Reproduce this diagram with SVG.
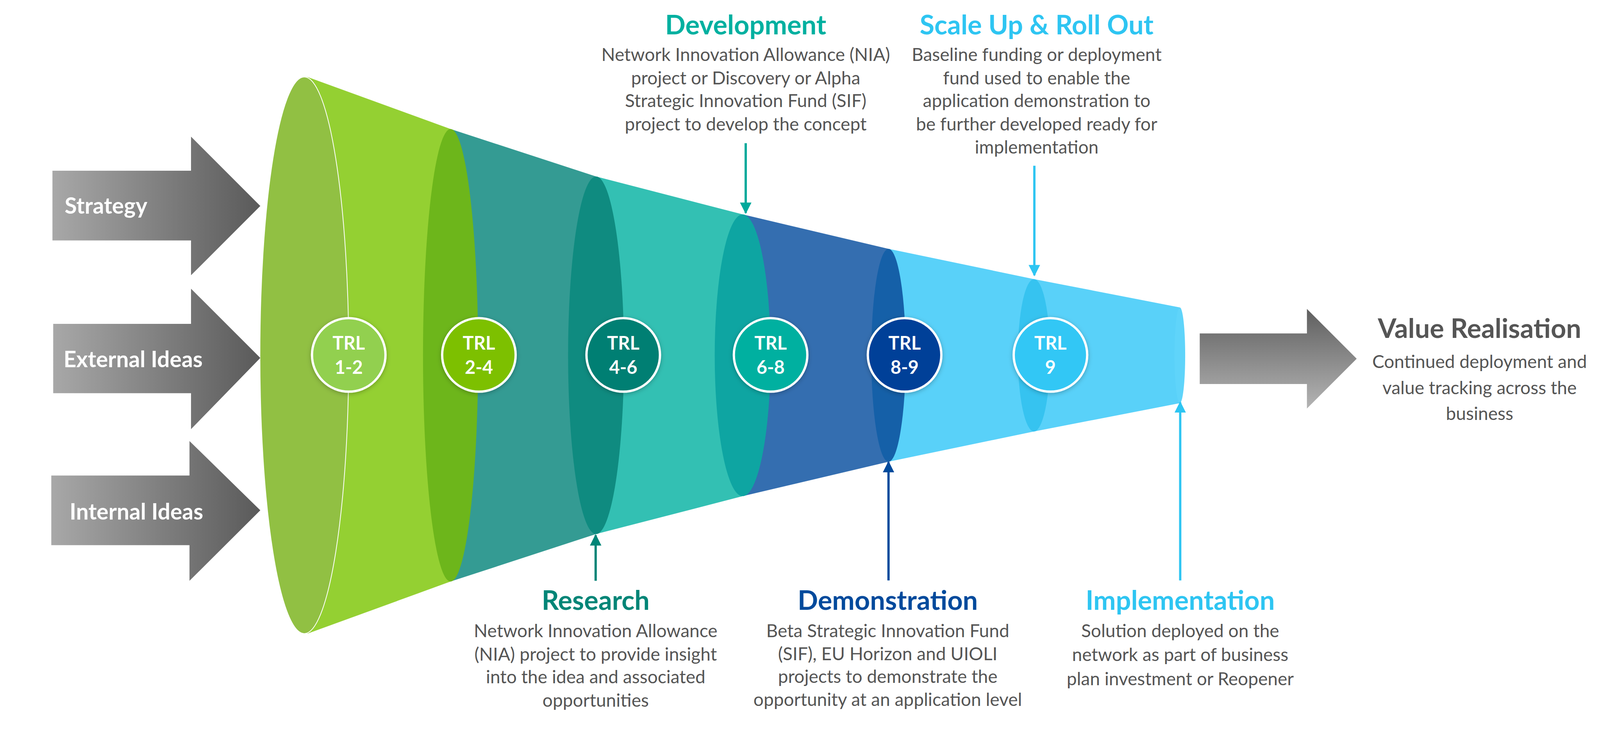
<svg xmlns="http://www.w3.org/2000/svg" width="4189" height="1884" viewBox="0 0 4189 1884">
<defs>
<linearGradient id="gh" x1="0" y1="0" x2="1" y2="0"><stop offset="0" stop-color="#a8a8a8"/><stop offset="1" stop-color="#5a5a5a"/></linearGradient>
<linearGradient id="gv" x1="0" y1="0" x2="0" y2="1"><stop offset="0" stop-color="#5f5f5f"/><stop offset="1" stop-color="#b4b4b4"/></linearGradient>
<filter id="sh" x="-30%" y="-30%" width="160%" height="160%"><feDropShadow dx="0" dy="3" stdDeviation="6" flood-color="#000" flood-opacity="0.25"/></filter>
<marker id="m1" viewBox="0 0 10 10" refX="9" refY="5" markerWidth="5" markerHeight="5" orient="auto"><path d="M0,0L10,5L0,10z" fill="#00a99b"/></marker>
<marker id="m2" viewBox="0 0 10 10" refX="9" refY="5" markerWidth="5" markerHeight="5" orient="auto"><path d="M0,0L10,5L0,10z" fill="#2ec5f2"/></marker>
<marker id="m3" viewBox="0 0 10 10" refX="9" refY="5" markerWidth="5" markerHeight="5" orient="auto"><path d="M0,0L10,5L0,10z" fill="#008577"/></marker>
<marker id="m4" viewBox="0 0 10 10" refX="9" refY="5" markerWidth="5" markerHeight="5" orient="auto"><path d="M0,0L10,5L0,10z" fill="#004a9c"/></marker>
</defs>
<style>
.al{font-family:Lato,"Liberation Sans",sans-serif;font-weight:bold;font-size:58px;fill:#fff}
.trl{font-family:Lato,"Liberation Sans",sans-serif;font-weight:bold;font-size:48px;fill:#fff;text-anchor:middle}
.tt{font-family:Lato,"Liberation Sans",sans-serif;font-weight:bold;font-size:70px;text-anchor:middle}
.bd{font-family:Lato,"Liberation Sans",sans-serif;font-size:47px;fill:#555;text-anchor:middle}
.ring{stroke:#fff;stroke-width:6;filter:url(#sh)}
.cn{stroke-width:6;fill:none}
</style>
<g transform="scale(0.98)">
<g id="funnel">
<path d="M803,201L1177,337L1177,1519L803,1655Z" fill="#94d032"/>
<path d="M1177,337L1557,461L1557,1395L1177,1519Z" fill="#349b93"/>
<path d="M1557,461L1940,560L1940,1296L1557,1395Z" fill="#33c0b3"/>
<path d="M1940,560L2321,650L2321,1206L1940,1296Z" fill="#346eb0"/>
<path d="M2321,650L2701,729L2701,1127L2321,1206Z" fill="#59d1f9"/>
<path d="M2701,729L3082,803L3082,1053L2701,1127Z" fill="#59d1f9"/>
<ellipse cx="3082" cy="928" rx="14" ry="125" fill="#5fd4fa"/>
<ellipse cx="2701" cy="928" rx="42" ry="199" fill="#36c3f0"/>
<ellipse cx="2321" cy="928" rx="45" ry="278" fill="#1560a8"/>
<ellipse cx="1940" cy="928" rx="73" ry="368" fill="#0ea5a2"/>
<ellipse cx="1557" cy="928" rx="73" ry="467" fill="#0f8b80"/>
<ellipse cx="1177" cy="928" rx="72" ry="591" fill="#6db61b"/>
<ellipse cx="795" cy="928" rx="116" ry="727" fill="#91c043" stroke="#fff" stroke-width="2"/>
</g>
<g id="in-strategy"><path d="M137,446H499V357L680,538L499,719V628H137Z" fill="url(#gh)"/><text class="al" x="169" y="558">Strategy</text></g>
<g id="in-external"><path d="M139,846H499V754L680,935L499,1121V1027H139Z" fill="url(#gh)"/><text class="al" x="166" y="959">External Ideas</text></g>
<g id="in-internal"><path d="M134,1242H495V1152L680,1333L495,1517V1424H134Z" fill="url(#gh)"/><text class="al" x="182" y="1357">Internal Ideas</text></g>
<g id="trl1"><circle class="ring" cx="911" cy="927" r="96" fill="#92d050"/><text class="trl" x="911" y="913">TRL</text><text class="trl" x="911" y="977">1-2</text></g>
<g id="trl2"><circle class="ring" cx="1251" cy="927" r="96" fill="#7dc000"/><text class="trl" x="1251" y="913">TRL</text><text class="trl" x="1251" y="977">2-4</text></g>
<g id="trl3"><circle class="ring" cx="1628" cy="927" r="96" fill="#007f73"/><text class="trl" x="1628" y="913">TRL</text><text class="trl" x="1628" y="977">4-6</text></g>
<g id="trl4"><circle class="ring" cx="2013" cy="927" r="96" fill="#00b0a0"/><text class="trl" x="2013" y="913">TRL</text><text class="trl" x="2013" y="977">6-8</text></g>
<g id="trl5"><circle class="ring" cx="2363" cy="927" r="96" fill="#003f98"/><text class="trl" x="2363" y="913">TRL</text><text class="trl" x="2363" y="977">8-9</text></g>
<g id="trl6"><circle class="ring" cx="2744" cy="927" r="96" fill="#33c7f5"/><text class="trl" x="2744" y="913">TRL</text><text class="trl" x="2744" y="977">9</text></g>
<g id="connectors">
<line class="cn" x1="1948" y1="374" x2="1948" y2="556" stroke="#00a99b" marker-end="url(#m1)"/>
<line class="cn" x1="2702" y1="433" x2="2702" y2="719" stroke="#2ec5f2" marker-end="url(#m2)"/>
<line class="cn" x1="1556" y1="1517" x2="1556" y2="1398" stroke="#008577" marker-end="url(#m3)"/>
<line class="cn" x1="2321" y1="1516" x2="2321" y2="1207" stroke="#004a9c" marker-end="url(#m4)"/>
<line class="cn" x1="3083" y1="1516" x2="3083" y2="1051" stroke="#2ec5f2" marker-end="url(#m2)"/>
</g>
<g id="development"><text class="tt" x="1948" y="90" fill="#00b0a0">Development</text>
<text class="bd" x="1948" y="159">Network Innovation Allowance (NIA)</text><text class="bd" x="1948" y="220">project or Discovery or Alpha</text><text class="bd" x="1948" y="280">Strategic Innovation Fund (SIF)</text><text class="bd" x="1948" y="341">project to develop the concept</text></g>
<g id="scaleup"><text class="tt" x="2708" y="90" fill="#2ec5f2">Scale Up &amp; Roll Out</text>
<text class="bd" x="2708" y="159">Baseline funding or deployment</text><text class="bd" x="2708" y="220">fund used to enable the</text><text class="bd" x="2708" y="280">application demonstration to</text><text class="bd" x="2708" y="341">be further developed ready for</text><text class="bd" x="2708" y="401">implementation</text></g>
<g id="research"><text class="tt" x="1556" y="1593" fill="#008577">Research</text>
<text class="bd" x="1556" y="1664">Network Innovation Allowance</text><text class="bd" x="1556" y="1725">(NIA) project to provide insight</text><text class="bd" x="1556" y="1785">into the idea and associated</text><text class="bd" x="1556" y="1846">opportunities</text></g>
<g id="demonstration"><text class="tt" x="2319" y="1593" fill="#004a9c">Demonstration</text>
<text class="bd" x="2319" y="1664">Beta Strategic Innovation Fund</text><text class="bd" x="2319" y="1724">(SIF), EU Horizon and UIOLI</text><text class="bd" x="2319" y="1784">projects to demonstrate the</text><text class="bd" x="2319" y="1844">opportunity at an application level</text></g>
<g id="implementation"><text class="tt" x="3083" y="1593" fill="#2ec5f2">Implementation</text>
<text class="bd" x="3083" y="1664">Solution deployed on the</text><text class="bd" x="3083" y="1727">network as part of business</text><text class="bd" x="3083" y="1790">plan investment or Reopener</text></g>
<g id="value"><path d="M3134,871H3414V807L3544,937L3414,1067V1003H3134Z" fill="url(#gv)"/>
<text class="tt" x="3865" y="883" fill="#555">Value Realisation</text>
<text class="bd" x="3865" y="961">Continued deployment and</text><text class="bd" x="3865" y="1030">value tracking across the</text><text class="bd" x="3865" y="1097">business</text></g>
</g>
</svg>
